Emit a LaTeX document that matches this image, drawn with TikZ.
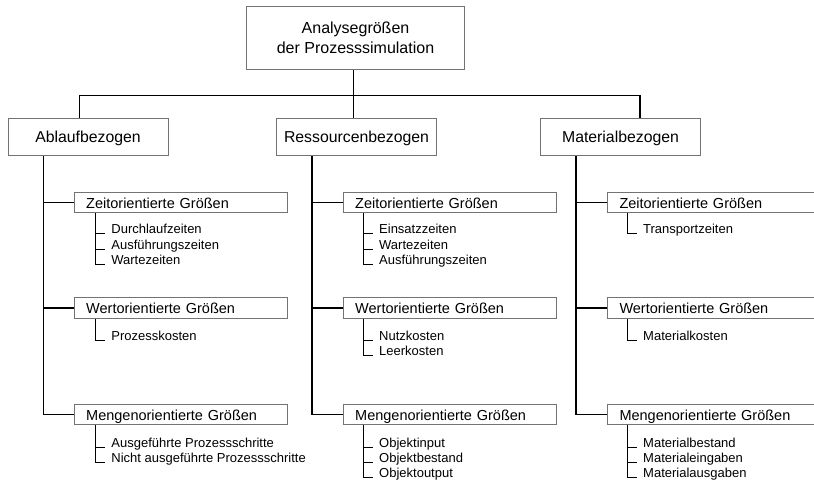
\documentclass[tikz,border=0pt]{standalone}
\usepackage{fontspec}
\setmainfont{Liberation Sans}
\begin{document}
\begin{tikzpicture}[x=1pt,y=-1pt,
  conn/.style={line width=1.1pt, black},
  subconn/.style={line width=0.9pt, black},
  boxline/.style={draw=black!55, line width=1pt, fill=white},
  topbox/.style={boxline, anchor=north west, align=center, font=\fontsize{16}{20}\selectfont, inner sep=0pt, minimum width=218pt, minimum height=63.3pt},
  lvlbox/.style={boxline, anchor=north west, font=\fontsize{15.8}{19}\selectfont, inner sep=0pt, text height=11.5pt, text depth=0pt, minimum height=37.3pt, minimum width=160pt},
  subbox/.style={boxline, anchor=north west, font=\fontsize{14.5}{17}\selectfont, inner xsep=12pt, inner ysep=0pt, text width=189pt, align=left, text height=14pt, text depth=2.3pt, minimum height=20.3pt},
  item/.style={anchor=base west, inner xsep=6pt, inner ysep=0pt, font=\fontsize{13}{15}\selectfont},
]
\useasboundingbox (0,0) rectangle (814,482);
\clip (0,0) rectangle (814,482);
\fill[white] (0,0) rectangle (814,482);

% top
\node[topbox] (top) at (246,6) {Analysegrößen\\der Prozesssimulation};

% level 1
\node[lvlbox] (abl) at (7.5,118) {Ablaufbezogen};
\node[lvlbox] (res) at (276,118) {Ressourcenbezogen};
\node[lvlbox] (mat) at (540,118) {Materialbezogen};

% column coordinates
\coordinate (cx) at (353.3,0);
\coordinate (bar) at (0,95.7);
\coordinate (dA) at (79.3,0);
\coordinate (dM) at (640,0);
\coordinate (ax) at (43.3,0);
\coordinate (rx) at (312,0);
\coordinate (mx) at (576,0);
\coordinate (asx) at (95.7,0);
\coordinate (rsx) at (363.5,0);
\coordinate (msx) at (627.5,0);

% sub boxes
\node[subbox] (zA) at (73.7,191.8) {Zeitorientierte Größen};
\node[subbox] (wA) at (73.7,297.3) {Wertorientierte Größen};
\node[subbox] (mA) at (73.7,403.5) {Mengenorientierte Größen};
\node[subbox] (zR) at (342.7,191.8) {Zeitorientierte Größen};
\node[subbox] (wR) at (342.7,297.3) {Wertorientierte Größen};
\node[subbox] (mR) at (342.7,403.5) {Mengenorientierte Größen};
\node[subbox] (zM) at (607,191.8) {Zeitorientierte Größen};
\node[subbox] (wM) at (607,297.3) {Wertorientierte Größen};
\node[subbox] (mM) at (607,403.5) {Mengenorientierte Größen};

% items: Ablauf
\node[item] (zA1) at (105.2,233.5) {Durchlaufzeiten};
\node[item] (zA2) at (105.2,249) {Ausführungszeiten};
\node[item] (zA3) at (105.2,264.5) {Wartezeiten};
\node[item] (wA1) at (105.2,340.5) {Prozesskosten};
\node[item] (mA1) at (105.2,447.3) {Ausgeführte Prozessschritte};
\node[item] (mA2) at (105.2,462.5) {Nicht ausgeführte Prozessschritte};
% items: Ressourcen
\node[item] (zR1) at (373,233.5) {Einsatzzeiten};
\node[item] (zR2) at (373,249) {Wartezeiten};
\node[item] (zR3) at (373,264.5) {Ausführungszeiten};
\node[item] (wR1) at (373,340.5) {Nutzkosten};
\node[item] (wR2) at (373,355.5) {Leerkosten};
\node[item] (mR1) at (373,447.3) {Objektinput};
\node[item] (mR2) at (373,462.5) {Objektbestand};
\node[item] (mR3) at (373,477.5) {Objektoutput};
% items: Material
\node[item] (zM1) at (637,233.5) {Transportzeiten};
\node[item] (wM1) at (637,340.5) {Materialkosten};
\node[item] (mM1) at (637,447.3) {Materialbestand};
\node[item] (mM2) at (637,462.5) {Materialeingaben};
\node[item] (mM3) at (637,477.5) {Materialausgaben};

% top connectors
\draw[conn] (top.south -| cx) -- (res.north -| cx);
\draw[conn] (abl.north -| dA) -- (bar -| dA) -- (bar -| dM) -- (mat.north -| dM);

% level1 to sub boxes
\draw[conn] (abl.south -| ax) |- (mA.west);
\draw[conn] (zA.west -| ax) -- (zA.west);
\draw[conn] (wA.west -| ax) -- (wA.west);
\draw[conn] (res.south -| rx) |- (mR.west);
\draw[conn] (zR.west -| rx) -- (zR.west);
\draw[conn] (wR.west -| rx) -- (wR.west);
\draw[conn] (mat.south -| mx) |- (mM.west);
\draw[conn] (zM.west -| mx) -- (zM.west);
\draw[conn] (wM.west -| mx) -- (wM.west);

% sub boxes to items
\draw[subconn] (zA.south -| asx) |- (zA3.base west);
\draw[subconn] (zA1.base west -| asx) -- (zA1.base west);
\draw[subconn] (zA2.base west -| asx) -- (zA2.base west);
\draw[subconn] (wA.south -| asx) |- (wA1.base west);
\draw[subconn] (mA.south -| asx) |- (mA2.base west);
\draw[subconn] (mA1.base west -| asx) -- (mA1.base west);

\draw[subconn] (zR.south -| rsx) |- (zR3.base west);
\draw[subconn] (zR1.base west -| rsx) -- (zR1.base west);
\draw[subconn] (zR2.base west -| rsx) -- (zR2.base west);
\draw[subconn] (wR.south -| rsx) |- (wR2.base west);
\draw[subconn] (wR1.base west -| rsx) -- (wR1.base west);
\draw[subconn] (mR.south -| rsx) |- (mR3.base west);
\draw[subconn] (mR1.base west -| rsx) -- (mR1.base west);
\draw[subconn] (mR2.base west -| rsx) -- (mR2.base west);

\draw[subconn] (zM.south -| msx) |- (zM1.base west);
\draw[subconn] (wM.south -| msx) |- (wM1.base west);
\draw[subconn] (mM.south -| msx) |- (mM3.base west);
\draw[subconn] (mM1.base west -| msx) -- (mM1.base west);
\draw[subconn] (mM2.base west -| msx) -- (mM2.base west);
\end{tikzpicture}
\end{document}
